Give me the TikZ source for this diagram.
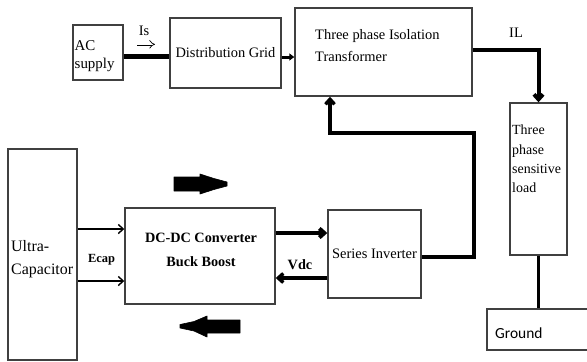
\documentclass[tikz,border=0pt]{standalone}
\usepackage{fontspec}
\setmainfont{Liberation Serif}
\newfontfamily\gndfont{Carlito}
\usetikzlibrary{arrows.meta}

\tikzset{
  blk/.style={draw=black!75, line width=1.4bp, inner sep=0pt},
  txt/.style={inner sep=0pt, font=\fontsize{14.5}{18}\selectfont},
  boldtxt/.style={inner sep=0pt, font=\fontsize{14.3}{25}\selectfont\bfseries},
  bus/.style={line width=4bp},
  sig/.style={line width=1.4bp},
  barb/.style={-{Straight Barb[length=5bp,width=9bp]}},
  implies/.style={double, double distance=2.2bp, line width=0.7bp, -{Implies}},
  bigarrow/.style={fill=black, draw=black, line width=0.6bp, line join=round},
}

\begin{document}
\begin{tikzpicture}[x=1bp,y=-1bp]
  \useasboundingbox (0,0) rectangle (587,361);
  \clip (0,0) rectangle (587,361);

  % --- blocks
  \node[blk, minimum width=50bp, minimum height=55bp] (ac) at (98,52.5) {};
  \node[blk, txt, minimum width=111bp, minimum height=70bp] (grid) at (225.5,53) {Distribution Grid};
  \node[blk, minimum width=177bp, minimum height=88bp] (xfmr) at (383.5,52) {};
  \node[blk, minimum width=57bp, minimum height=152bp] (load) at (538.5,179) {};
  \node[blk, minimum width=113bp, minimum height=41bp] (gnd) at (543.5,329.5) {};
  \node[blk, minimum width=69bp, minimum height=211bp] (ucap) at (42.5,254.5) {};
  \node[blk, minimum width=150bp, minimum height=96bp] (conv) at (200,256) {};
  \node[blk, txt, minimum width=93bp, minimum height=88bp] (inv) at (374.5,254) {Series Inverter};

  % --- block texts
  \node[txt, font=\fontsize{15}{18}\selectfont, align=left, anchor=north west] (ac-txt) at (74.5,40) {AC\\supply};
  \node[txt, font=\fontsize{14.5}{22}\selectfont, align=left, anchor=north west] (xfmr-txt) at (315,29) {Three phase Isolation\\Transformer};
  \node[txt, font=\fontsize{14}{19.3}\selectfont, align=left, anchor=north west] (load-txt) at (512,125) {Three\\phase\\sensitive\\load};
  \node[txt, font=\fontsize{16}{23}\selectfont, align=left, anchor=north west] (ucap-txt) at (11,240) {Ultra-\\Capacitor};
  \node[boldtxt, font=\fontsize{14.3}{24}\selectfont\bfseries, align=center] (conv-txt) at (201,250) {DC-DC Converter\\Buck Boost};
  \node[inner sep=0pt, anchor=base west, font=\gndfont\fontsize{15.5}{18}\selectfont] (gnd-txt) at (495,338) {Ground};

  % --- connector labels
  \node[txt, anchor=base] (is-lbl) at (144,35) {Is};
  \draw[implies] ([shift={(-7bp,-9bp)}]is-lbl.south) -- ++(18,0);
  \node[txt, anchor=base] (il-lbl) at (516,37) {IL};
  \node[boldtxt, font=\fontsize{12.5}{15}\selectfont\bfseries, anchor=base] (ecap-lbl) at (101.5,262) {Ecap};
  \node[boldtxt, anchor=base] (vdc-lbl) at (300,269) {Vdc};

  % --- helper points
  \coordinate (ec1) at ([yshift=27bp]conv.west);
  \coordinate (ec2) at ([yshift=-25bp]conv.west);
  \coordinate (dc1) at ([yshift=23bp]conv.east);
  \coordinate (dc2) at ([yshift=-22bp]conv.east);
  \coordinate (fb) at (474,133);
  \coordinate (fbin) at ([xshift=-53.5bp]xfmr.south);

  % --- ac side
  \draw[bus, line width=5bp] ([yshift=-4bp]ac.east) -- ([yshift=-4bp]ac.east -| grid.west);
  \draw[bus, line width=3bp, -{Triangle[length=5bp,width=7bp]}] ([yshift=-4bp]grid.east) -- ([yshift=-4bp]grid.east -| xfmr.west);
  \draw[bus, barb] ([yshift=2bp]xfmr.east) -| (load.north);
  \draw[bus, line width=3.5bp] (load.south) -- (load.south |- gnd.north);

  % --- dc side
  \draw[sig, barb] (ec1 -| ucap.east) -- (ec1);
  \draw[sig, barb] (ec2 -| ucap.east) -- (ec2);
  \draw[bus, barb] (dc1) -- (dc1 -| inv.west);
  \draw[bus, line width=3.5bp, barb] (dc2 -| inv.west) -- (dc2);
  \draw[bus, line width=3.5bp, barb] ([yshift=-3bp]inv.east) -| (fb) -| (fbin);

  % --- power flow arrows
  \draw[bigarrow] (174,177) -- (200,177) -- (200,174) -- (214,178.5) -- (227,182) -- (227,186)
    -- (214,189.5) -- (200,194) -- (200,191) -- (174,191) -- cycle;
  \draw[bigarrow] (240,320) -- (207,320) -- (207,316) -- (194,321.5) -- (180,324.5) -- (180,328)
    -- (194,331) -- (207,337) -- (207,333) -- (240,333) -- cycle;
\end{tikzpicture}
\end{document}
